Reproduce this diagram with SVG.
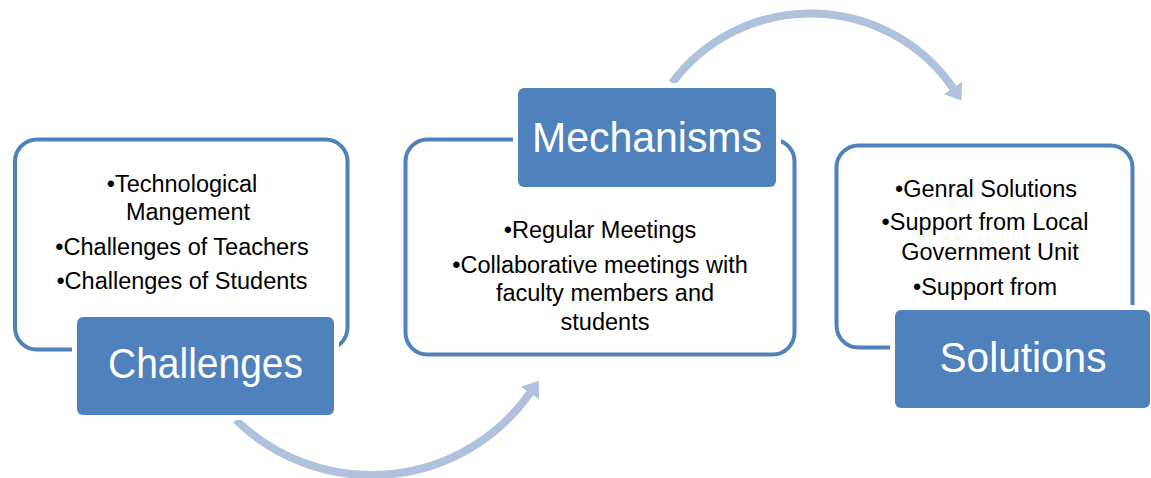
<svg xmlns="http://www.w3.org/2000/svg" width="1151" height="478" viewBox="0 0 1151 478">
<style>
.outline{fill:none;stroke:#4F81BD;stroke-width:4}
.label{fill:#4F81BD;stroke:#FFFFFF;stroke-width:10;paint-order:stroke}
.ltxt{font-family:"Liberation Sans",Arial,sans-serif;font-size:43px;fill:#FFFFFF;text-anchor:middle}
.btxt{font-family:"Liberation Sans",Arial,sans-serif;font-size:23.5px;fill:#000000;text-anchor:middle}
.arc{fill:none;stroke:#B0C1DD;stroke-width:8}
.head{fill:#B0C1DD}
</style>
<rect width="1151" height="478" fill="#FFFFFF"/>
<g id="connectors">
<path class="arc" d="M236,420 A194,194 0 0,0 530,393"/>
<polygon class="head" points="538.7,380.7 521,386.7 539,399.3"/>
<path class="arc" d="M672,83 A173,173 0 0,1 953,88"/>
<polygon class="head" points="961.5,100.4 943.9,94.2 962.1,81.8"/>
</g>
<g id="challenges">
<rect class="outline" x="15" y="139.5" width="332.5" height="210" rx="22"/>
<text class="btxt" x="182" y="192">•Technological</text>
<text class="btxt" x="188" y="220">Mangement</text>
<text class="btxt" x="182" y="255">•Challenges of Teachers</text>
<text class="btxt" x="182" y="289">•Challenges of Students</text>
<rect class="label" x="77" y="317" width="257" height="98" rx="6"/>
<text class="ltxt" x="205.5" y="378" textLength="195" lengthAdjust="spacingAndGlyphs">Challenges</text>
</g>
<g id="mechanisms">
<rect class="outline" x="405.5" y="139.5" width="389" height="215" rx="22"/>
<rect class="label" x="518" y="88" width="258" height="99" rx="6"/>
<text class="ltxt" x="647" y="152" textLength="230" lengthAdjust="spacingAndGlyphs">Mechanisms</text>
<text class="btxt" x="600" y="238">•Regular Meetings</text>
<text class="btxt" x="600" y="273">•Collaborative meetings with</text>
<text class="btxt" x="605" y="301">faculty members and</text>
<text class="btxt" x="605" y="330">students</text>
</g>
<g id="solutions">
<rect class="outline" x="836.5" y="145.5" width="296" height="202" rx="22"/>
<text class="btxt" x="986" y="197">•Genral Solutions</text>
<text class="btxt" x="985" y="230">•Support from Local</text>
<text class="btxt" x="990" y="260">Government Unit</text>
<text class="btxt" x="985" y="295">•Support from</text>
<rect class="label" x="895" y="310" width="255" height="98" rx="6"/>
<text class="ltxt" x="1023" y="372" textLength="167" lengthAdjust="spacingAndGlyphs">Solutions</text>
</g>
</svg>
